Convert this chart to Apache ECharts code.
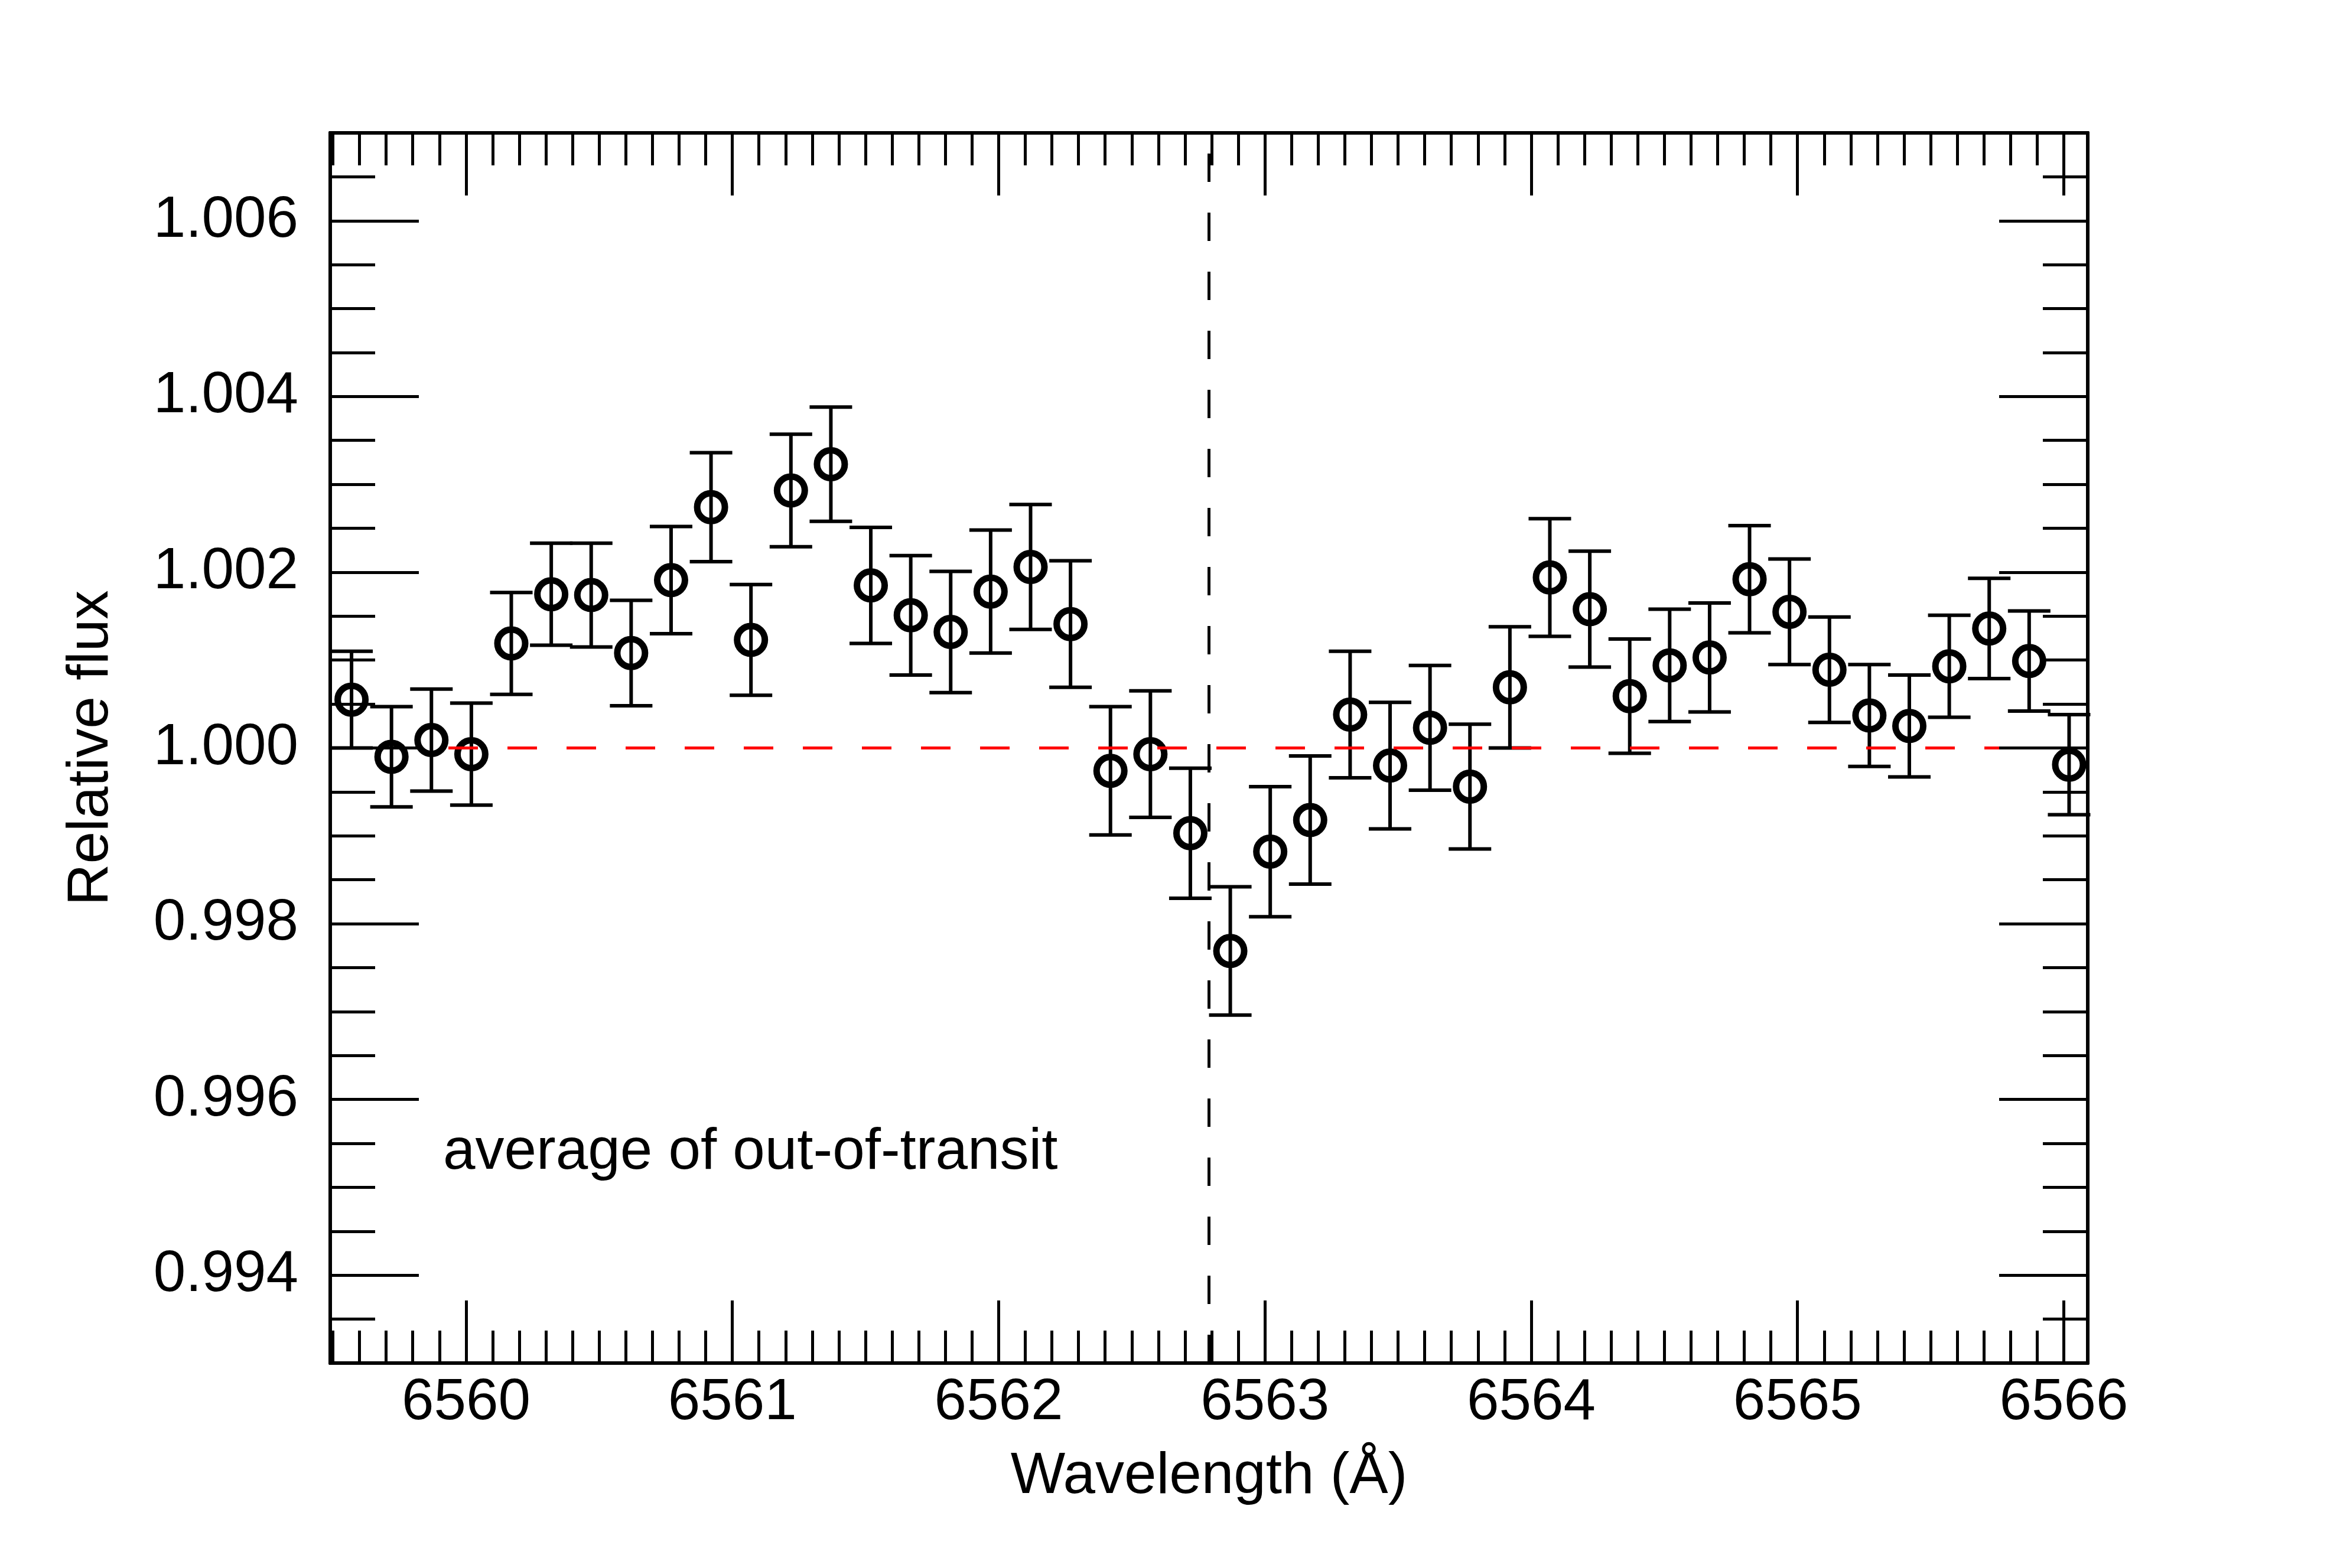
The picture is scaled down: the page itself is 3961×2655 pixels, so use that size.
<!DOCTYPE html>
<html>
<head>
<meta charset="utf-8">
<title>Relative flux around H-alpha</title>
<script src="https://cdn.jsdelivr.net/npm/echarts@6/dist/echarts.min.js"></script>
<style>
  html, body { margin: 0; padding: 0; background: #fff; }
  #chart { width: 3961px; height: 2655px; }
</style>
</head>
<body>
<div id="chart"></div>
<script>
// wavelength of each bin (Angstrom)
var wavelength = [
	6559.57, 6559.72, 6559.87, 6560.02, 6560.17, 6560.32, 6560.47, 6560.62, 6560.77, 6560.92,
	6561.07, 6561.22, 6561.37, 6561.52, 6561.67, 6561.82, 6561.97, 6562.12, 6562.27, 6562.42,
	6562.57, 6562.72, 6562.87, 6563.02, 6563.17, 6563.32, 6563.47, 6563.62, 6563.77, 6563.92,
	6564.07, 6564.22, 6564.37, 6564.52, 6564.67, 6564.82, 6564.97, 6565.12, 6565.27, 6565.42,
	6565.57, 6565.72, 6565.87, 6566.02
];
// relative flux
var flux = [
	1.00055, 0.99990, 1.00009, 0.99993, 1.00119, 1.00175, 1.00174, 1.00108, 1.00191, 1.00274,
	1.00123, 1.00293, 1.00323, 1.00185, 1.00151, 1.00132, 1.00178, 1.00206, 1.00141, 0.99974,
	0.99993, 0.99903, 0.99769, 0.99882, 0.99918, 1.00038, 0.99980, 1.00023, 0.99956, 1.00069,
	1.00194, 1.00158, 1.00059, 1.00094, 1.00103, 1.00192, 1.00155, 1.00089, 1.00037, 1.00025,
	1.00093, 1.00136, 1.00099, 0.99981
];
// 1-sigma error of each bin
var fluxErr = [
	0.00055, 0.00057, 0.00058, 0.00058, 0.00058, 0.00058, 0.00059, 0.00060, 0.00061, 0.00062,
	0.00063, 0.00064, 0.00065, 0.00066, 0.00068, 0.00069, 0.00070, 0.00071, 0.00072, 0.00073,
	0.00072, 0.00074, 0.00073, 0.00074, 0.00073, 0.00072, 0.00072, 0.00071, 0.00071, 0.00069,
	0.00067, 0.00066, 0.00065, 0.00064, 0.00062, 0.00061, 0.00060, 0.00060, 0.00058, 0.00058,
	0.00058, 0.00057, 0.00057, 0.00057
];
var xRange = [6559.49, 6566.09];
var yRange = [0.993, 1.007];
var lineCentre = 6562.79;   // H-alpha
var continuum = 1.0;
var noteText = 'average of out-of-transit';

var FONT = 'Liberation Sans, Arial, Helvetica, sans-serif';

var points = [];
var bars = [];
for (var i = 0; i < wavelength.length; i++) {
	points.push([wavelength[i], flux[i]]);
	bars.push([wavelength[i], flux[i] - fluxErr[i], flux[i] + fluxErr[i]]);
}

function xAxisDef(grid, pos, major) {
	return {
		type: 'value', gridIndex: grid, position: pos,
		min: xRange[0], max: xRange[1],
		splitNumber: major ? 6 : 66,
		z: 10,
		axisLine: { show: true, lineStyle: { color: '#000', width: 6 } },
		axisTick: { show: true, inside: true, length: major ? 106 : 55, lineStyle: { color: '#000', width: 5 } },
		axisLabel: {
			show: major && pos == 'bottom', margin: 19, color: '#000',
			fontSize: 98, fontFamily: FONT, showMinLabel: false, showMaxLabel: false,
			formatter: function (v) { return String(Math.round(v)); }
		},
		splitLine: { show: false },
		name: (major && pos == 'bottom') ? 'Wavelength (Å)' : '',
		nameLocation: 'middle', nameGap: 144,
		nameTextStyle: { color: '#000', fontSize: 98, fontFamily: FONT }
	};
}
function yAxisDef(grid, pos, major) {
	return {
		type: 'value', gridIndex: grid, position: pos,
		min: yRange[0], max: yRange[1],
		splitNumber: major ? 7 : 28,
		z: 10,
		axisLine: { show: true, lineStyle: { color: '#000', width: 6 } },
		axisTick: { show: true, inside: true, length: major ? 150 : 76, lineStyle: { color: '#000', width: 5 } },
		axisLabel: {
			show: major && pos == 'left', margin: 54, color: '#000',
			fontSize: 98, fontFamily: FONT, showMinLabel: false, showMaxLabel: false,
			formatter: function (v) { return v.toFixed(3); }
		},
		splitLine: { show: false },
		name: (major && pos == 'left') ? 'Relative flux' : '',
		nameLocation: 'middle', nameGap: 355, nameRotate: 90,
		nameTextStyle: { color: '#000', fontSize: 98, fontFamily: FONT }
	};
}

var gridBox = { left: 559, right: 427, top: 225, bottom: 347, outerBoundsMode: 'none' };

var myChart = echarts.init(document.getElementById('chart'));
var option = {
	animation: false,
	backgroundColor: '#fff',
	textStyle: { fontFamily: FONT },
	grid: [
		Object.assign({}, gridBox),
		Object.assign({}, gridBox)
	],
	xAxis: [
		xAxisDef(0, 'bottom', true),
		xAxisDef(0, 'top', true),
		xAxisDef(1, 'bottom', false),
		xAxisDef(1, 'top', false)
	],
	yAxis: [
		yAxisDef(0, 'left', true),
		yAxisDef(0, 'right', true),
		yAxisDef(1, 'left', false),
		yAxisDef(1, 'right', false)
	],
	series: [
		{
			type: 'custom',
			xAxisIndex: 0, yAxisIndex: 0,
			z: 3,
			silent: true,
			data: bars,
			encode: { x: 0, y: [1, 2] },
			renderItem: function (params, api) {
				var x = api.value(0);
				var lo = api.coord([x, api.value(1)]);
				var hi = api.coord([x, api.value(2)]);
				var half = 36;
				var st = { stroke: '#000', lineWidth: 6 };
				return {
					type: 'group',
					children: [
						{ type: 'line', shape: { x1: lo[0], y1: lo[1], x2: hi[0], y2: hi[1] }, style: st },
						{ type: 'line', shape: { x1: lo[0] - half, y1: lo[1], x2: lo[0] + half, y2: lo[1] }, style: st },
						{ type: 'line', shape: { x1: hi[0] - half, y1: hi[1], x2: hi[0] + half, y2: hi[1] }, style: st }
					]
				};
			}
		},
		{
			type: 'scatter',
			xAxisIndex: 0, yAxisIndex: 0,
			z: 3,
			symbol: 'circle',
			symbolSize: 47,
			itemStyle: { color: 'rgba(0,0,0,0)', borderColor: '#000', borderWidth: 11, opacity: 1 },
			data: points,
			markLine: {
				silent: true,
				symbol: ['none', 'none'],
				label: { show: false },
				z: 5,
				data: [
					{ yAxis: continuum, lineStyle: { color: '#ff0000', width: 5, type: [50, 50] } },
					{ xAxis: lineCentre, lineStyle: { color: '#000', width: 5, type: [48, 52] } }
				]
			}
		}
	],
	graphic: [
		{
			type: 'text', left: 750, top: 1952 - 49,
			style: { text: noteText, fill: '#000', fontSize: 98, fontFamily: FONT }
		}
	]
};
myChart.setOption(option);
</script>
</body>
</html>
